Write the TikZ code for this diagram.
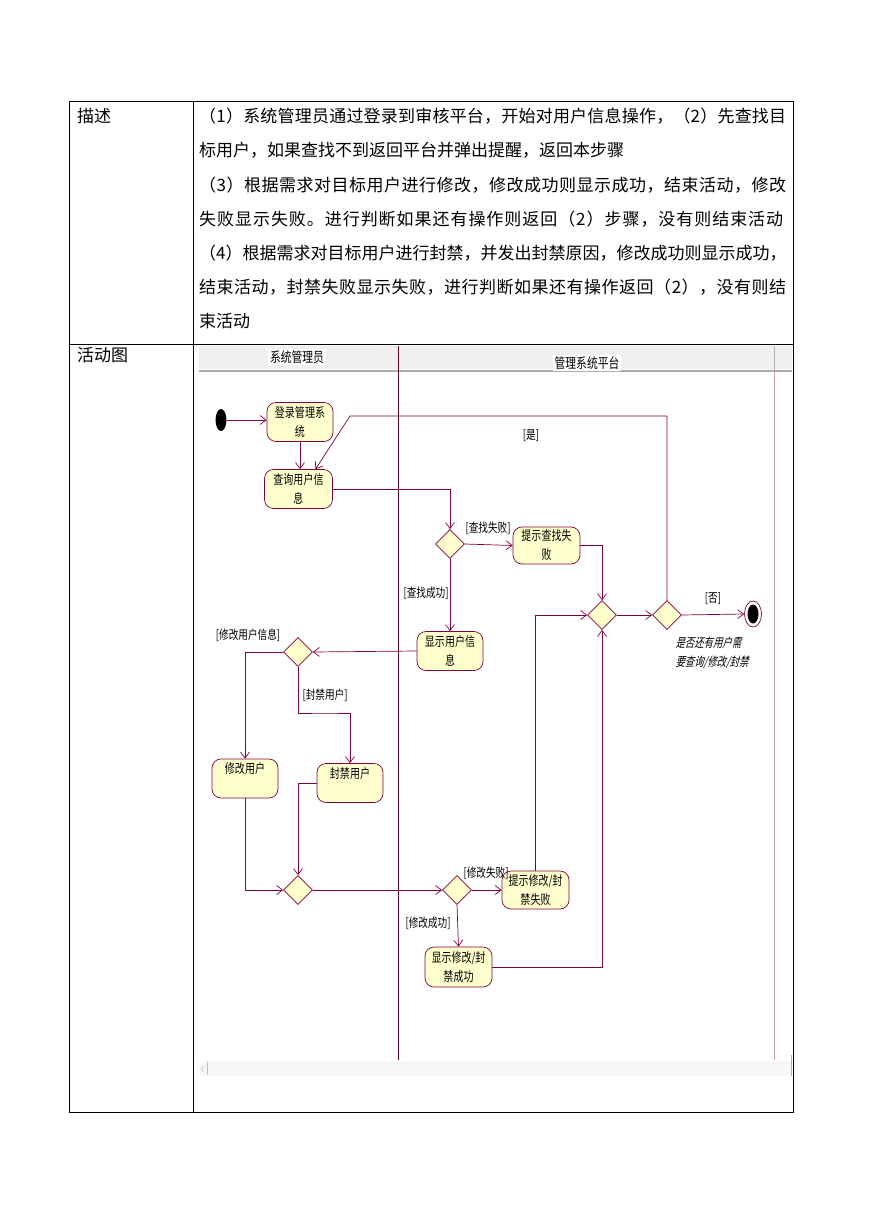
\documentclass[tikz,border=0pt]{standalone}
\usepackage{fontspec}
\usetikzlibrary{shapes.geometric,arrows.meta,positioning}
\newfontfamily\cjk{Noto Sans CJK SC}
\newfontfamily\dgfont[FakeStretch=0.77]{Noto Sans CJK SC}
\newfontfamily\dgnote[FakeStretch=0.75,FakeSlant=0.25]{Noto Sans CJK SC}
\definecolor{umlred}{RGB}{128,0,64}
\definecolor{umlfill}{RGB}{255,255,206}
\makeatletter
\def\spreadrow#1{\spread@a#1\relax}
\def\spread@a#1{#1\spread@b}
\def\spread@b#1{\ifx#1\relax\else\hskip0pt plus 1fil #1\expandafter\spread@b\fi}
\makeatother
\newcommand\fullrow[1]{\makebox[587pt][s]{\spreadrow{#1}}}
\tikzset{
  act/.style={draw=umlred, fill=umlfill, line width=0.7pt, rounded corners=9pt, minimum width=66pt, minimum height=39pt, align=center, inner sep=1pt, font=\dgfont\fontsize{13}{19}\selectfont},
  dec/.style={diamond, draw=umlred, fill=umlfill, line width=0.7pt, minimum width=29pt, minimum height=29pt, inner sep=0pt},
  flow/.style={draw=umlred, line width=0.7pt, -{Straight Barb[length=6pt,width=9pt]}},
  grd/.style={inner sep=0pt, font=\dgfont\fontsize{12.5}{14}\selectfont},
  row/.style={anchor=base west, inner sep=0pt, font=\cjk\fontsize{17}{20}\selectfont},
  lane/.style={fill=white, inner sep=2pt, font=\dgfont\fontsize{14}{15}\selectfont}
}
\begin{document}
\begin{tikzpicture}[x=1pt, y=-1pt]
\useasboundingbox (0,0) rectangle (869,1228);
\fill[white] (0,0) rectangle (869,1228);

\draw[line width=0.8pt] (69,101) rectangle (793,1112);
\draw[line width=0.8pt] (193,101) -- (193,1112);
\draw[line width=0.8pt] (69,344) -- (793,344);

\node[row] (desc) at (77,123) {描述};
\node[row] (chart) at (77,361) {活动图};
\node[row] (t1) at (199,123) {\fullrow{（1）系统管理员通过登录到审核平台，开始对用户信息操作，（2）先查找目}};
\node[row] (t2) at (199,157) {标用户，如果查找不到返回平台并弹出提醒，返回本步骤};
\node[row] (t3) at (199,191) {\fullrow{（3）根据需求对目标用户进行修改，修改成功则显示成功，结束活动，修改}};
\node[row] (t4) at (199,225) {\makebox[584pt][s]{\spreadrow{失败显示失败。进行判断如果还有操作则返回（2）步骤，没有则结束活动}}};
\node[row] (t5) at (199,259) {\fullrow{（4）根据需求对目标用户进行封禁，并发出封禁原因，修改成功则显示成功，}};
\node[row] (t6) at (199,293) {\fullrow{结束活动，封禁失败显示失败，进行判断如果还有操作返回（2），没有则结}};
\node[row] (t7) at (199,327) {束活动};

\fill[gray!12] (199,346) rectangle (792,369);
\draw[gray!65, line width=2.5pt] (199,371) -- (792,371);
\draw[umlred!70!black, line width=0.8pt] (398,346) -- (398,1060);
\draw[gray!60, line width=0.8pt] (774,346) -- (774,370);
\draw[umlred!40, line width=0.7pt] (774,372) -- (774,1060);
\fill[gray!6] (199,1061) rectangle (792,1076);
\draw[gray!50, line width=0.8pt] (207,1062) -- (207,1075);
\draw[gray!60] (203.5,1066) -- (201.5,1069) -- (203.5,1072);
\draw[gray!60, line width=0.8pt] (791,1055) -- (791,1076);
\node[lane] (admin) at (297,357) {系统管理员};
\node[lane] (platform) at (587,363) {管理系统平台};

\node[ellipse, fill=black, minimum width=11pt, minimum height=22pt, inner sep=0pt] (start) at (221,420) {};
\node[act] (login) at (300,422) {登录管理系\\统};
\node[act, minimum width=68pt] (query) at (298.5,489) {查询用户信\\息};
\node[dec] (d1) at (450,544) {};
\node[act, minimum width=67pt, minimum height=37pt] (findfail) at (546.5,545.5) {提示查找失\\败};
\node[act] (show) at (450,651) {显示用户信\\息};
\node[dec] (m1) at (602,615) {};
\node[dec] (d2) at (667,615) {};
\node[ellipse, draw=umlred, fill=white, line width=0.7pt, minimum width=17pt, minimum height=26pt, inner sep=0pt] (stop) at (753,614) {};
\node[ellipse, fill=black, minimum width=11pt, minimum height=19pt, inner sep=0pt] (stopdot) at (stop) {};
\node[dec] (d3) at (298,652) {};
\node[act] (modify) at (245,778.5) {修改用户\\\phantom{户}};
\node[act] (ban) at (350,783) {封禁用户\\\phantom{户}};
\node[dec] (m2) at (298,890) {};
\node[dec] (d4) at (457,890) {};
\node[act, minimum width=67pt, minimum height=38pt] (editfail) at (535.5,890) {提示修改/封\\禁失败};
\node[act, minimum width=67pt, minimum height=40pt] (editok) at (458.5,967) {显示修改/封\\禁成功};

\node[grd] (gyes) at (531,436) {[是]};
\node[grd] (gfindfail) at (488,528) {[查找失败]};
\node[grd] (gfindok) at (426,593) {[查找成功]};
\node[grd] (gno) at (713,599) {[否]};
\node[grd] (gmodify) at (248,635) {[修改用户信息]};
\node[grd] (gban) at (325,695) {[封禁用户]};
\node[grd] (geditfail) at (486,873) {[修改失败]};
\node[grd] (geditok) at (428,923) {[修改成功]};
\node[inner sep=0pt, align=left, font=\dgnote\fontsize{12.5}{19}\selectfont] (note) at (712,653) {是否还有用户需\\要查询/修改/封禁};

\coordinate (yesbend) at (350,416);
\draw[flow] (start.east) -- (start.east -| login.west);
\draw[flow] (login.south) -- (login.south |- query.north);
\draw[flow] (d2.north) |- (yesbend) -- ([xshift=17pt]query.north);
\draw[flow] (query.east) -| (d1.north);
\draw[flow] (d1.east) -- (findfail.west);
\draw[flow] (findfail.east) -| (m1.north);
\draw[flow] (d1.south) -- (show.north);
\draw[flow] (show.west) -- (d3.east);
\draw[flow] (d3.west) -| (modify.north);
\draw[flow] (d3.south) |- (325,713) -| (ban.north);
\draw[flow] (modify.south) |- (m2.west);
\draw[flow] (ban.west) -| (m2.north);
\draw[flow] (m2.east) -- (d4.west);
\draw[flow] (d4.east) -- (editfail.west);
\draw[flow] (d4.south) -- (editok.north);
\draw[flow] (editfail.north) |- (m1.west);
\draw[flow] (editok.east) -| (m1.south);
\draw[flow] (m1.east) -- (d2.west);
\draw[flow] (d2.east) -- (stop.west);
\end{tikzpicture}
\end{document}
